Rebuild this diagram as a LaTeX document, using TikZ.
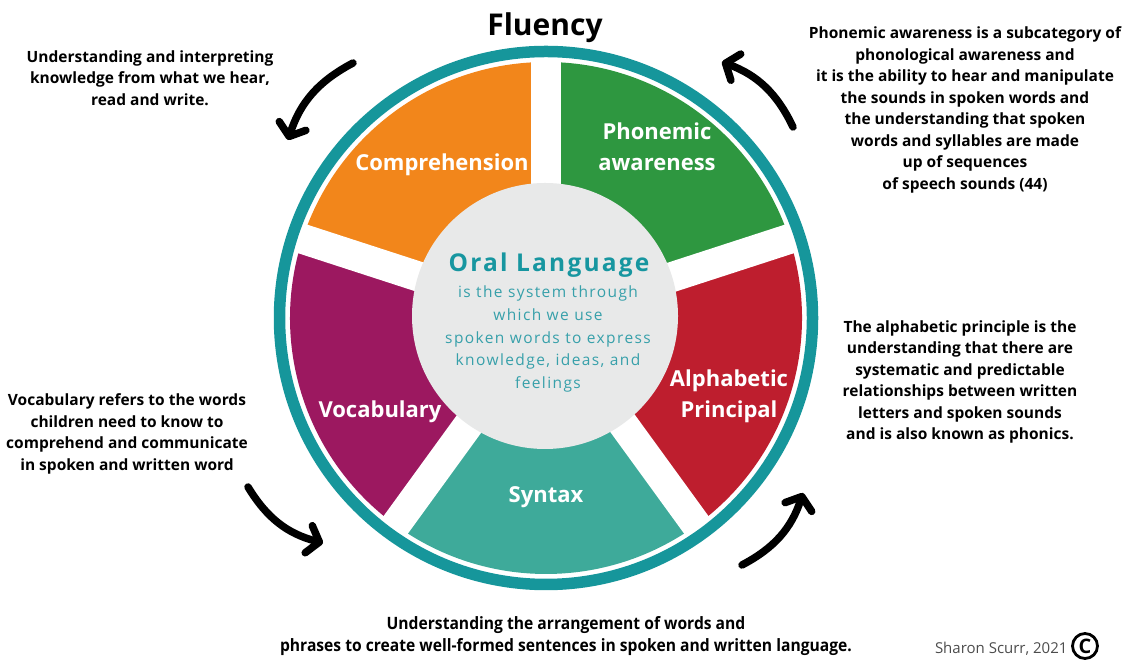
\documentclass[tikz,border=0pt]{standalone}
\usepackage{fontspec}
\setmainfont{Open Sans}
\newfontfamily\spacedfont[LetterSpace=9]{Open Sans}
\newfontfamily\narrowfont[FakeStretch=0.92]{Open Sans}
\usetikzlibrary{arrows.meta}

\definecolor{rimTeal}{RGB}{22,150,155}
\definecolor{compOrange}{RGB}{242,134,27}
\definecolor{phonGreen}{RGB}{46,151,64}
\definecolor{alphaRed}{RGB}{190,30,46}
\definecolor{syntaxTeal}{RGB}{62,170,154}
\definecolor{vocabPurple}{RGB}{156,24,96}
\definecolor{coreGray}{RGB}{232,233,233}
\definecolor{oralTeal}{RGB}{23,150,160}
\definecolor{oralText}{RGB}{55,160,170}

\begin{document}
\begin{tikzpicture}[x=1pt,y=1pt,line cap=round,line join=round,
  slice label/.style={text=white,align=center,font=\fontsize{22}{31}\selectfont\bfseries},
  note/.style={align=center,font=\fontsize{15.5}{21.5}\selectfont\bfseries},
  spoke/.style={white,line width=30pt,line cap=butt},
  flow/.style={line width=7.5pt,-{Straight Barb[length=11pt,width=28pt,round]}}]
  \useasboundingbox (0,0) rectangle (1129,660);
  \coordinate (C) at (546,342);

  % the five slices
  \fill[compOrange] (C) -- ++(90:256pt) arc[start angle=90,end angle=162,radius=256pt] -- cycle;
  \fill[phonGreen] (C) -- ++(18:256pt) arc[start angle=18,end angle=90,radius=256pt] -- cycle;
  \fill[alphaRed] (C) -- ++(-54:256pt) arc[start angle=-54,end angle=18,radius=256pt] -- cycle;
  \fill[syntaxTeal] (C) -- ++(-126:256pt) arc[start angle=-126,end angle=-54,radius=256pt] -- cycle;
  \fill[vocabPurple] (C) -- ++(162:256pt) arc[start angle=162,end angle=234,radius=256pt] -- cycle;

  % white spokes between them
  \draw[spoke] (C) -- ++(90:259pt);
  \draw[spoke] (C) -- ++(18:259pt);
  \draw[spoke] (C) -- ++(-54:259pt);
  \draw[spoke] (C) -- ++(-126:259pt);
  \draw[spoke] (C) -- ++(162:259pt);

  % centre disc and rim
  \node[circle,fill=coreGray,minimum size=266pt,inner sep=0pt] (core) at (545,344) {};
  \draw[rimTeal,line width=11.5pt] (C) circle[radius=266.5pt];

  \node[anchor=base,font=\fontsize{30}{34}\selectfont\bfseries] (title) at (545,624) {Fluency};

  \node[slice label,anchor=base] (comp) at (442,489) {Comprehension};
  \node[slice label] (phon) at (657,513) {Phonemic\\awareness};
  \node[slice label] (alpha) at (729,264) {Alphabetic\\Principal};
  \node[slice label,anchor=base] (vocab) at (380,242) {Vocabulary};
  \node[slice label,anchor=base] (syn) at (546,157) {Syntax};

  \node[anchor=base,text=oralTeal,font=\fontsize{24.5}{30}\spacedfont\bfseries] (oral) at (549,388) {Oral Language};
  \node[align=center,text=oralText,font=\fontsize{15.5}{22.7}\spacedfont] (oraldef) at (548,321)
    {is the system through\\which we use\\spoken words to express\\knowledge, ideas, and\\feelings};

  % notes round the wheel
  \node[note] (compnote) at (150,582) {Understanding and interpreting\\knowledge from what we hear,\\read and write.};
  \node[note] (phonnote) at (965,550) {Phonemic awareness is a subcategory of\\phonological awareness and\\it is the ability to hear and manipulate\\the sounds in spoken words and\\the understanding that spoken\\words and syllables are made\\up of sequences\\of speech sounds (44)};
  \node[note] (alphanote) at (960,278) {The alphabetic principle is the\\understanding that there are\\systematic and predictable\\relationships between written\\letters and spoken sounds\\and is also known as phonics.};
  \node[note] (vocabnote) at (127,226) {Vocabulary refers to the words\\children need to know to\\comprehend and communicate\\in spoken and written word};
  \node[align=center,font=\fontsize{17}{22}\narrowfont\bfseries] (synnote) at (566,24) {Understanding the arrangement of words and\\phrases to create well-formed sentences in spoken and written language.};

  % arrows going round
  \coordinate (a1s) at (353,597);
  \coordinate (a1e) at (288,520);
  \coordinate (a2s) at (793,533);
  \coordinate (a2e) at (722,598);
  \coordinate (a3s) at (742,95);
  \coordinate (a3e) at (803,167);
  \coordinate (a4s) at (248,173);
  \coordinate (a4e) at (323,117);
  \draw[flow] (a1s) to[bend right=22] (a1e);
  \draw[flow] (a2s) to[bend right=22] (a2e);
  \draw[flow] (a3s) to[bend right=22] (a3e);
  \draw[flow] (a4s) to[bend right=22] (a4e);

  \node[circle,draw,line width=2.8pt,minimum size=25pt,inner sep=0pt,font=\fontsize{20}{20}\selectfont\bfseries] (copy) at (1085,14) {C};
  \node[anchor=base east,text=black!70,font=\fontsize{15}{18}\selectfont] (credit) at (1071,6) {Sharon Scurr, 2021};
\end{tikzpicture}
\end{document}
